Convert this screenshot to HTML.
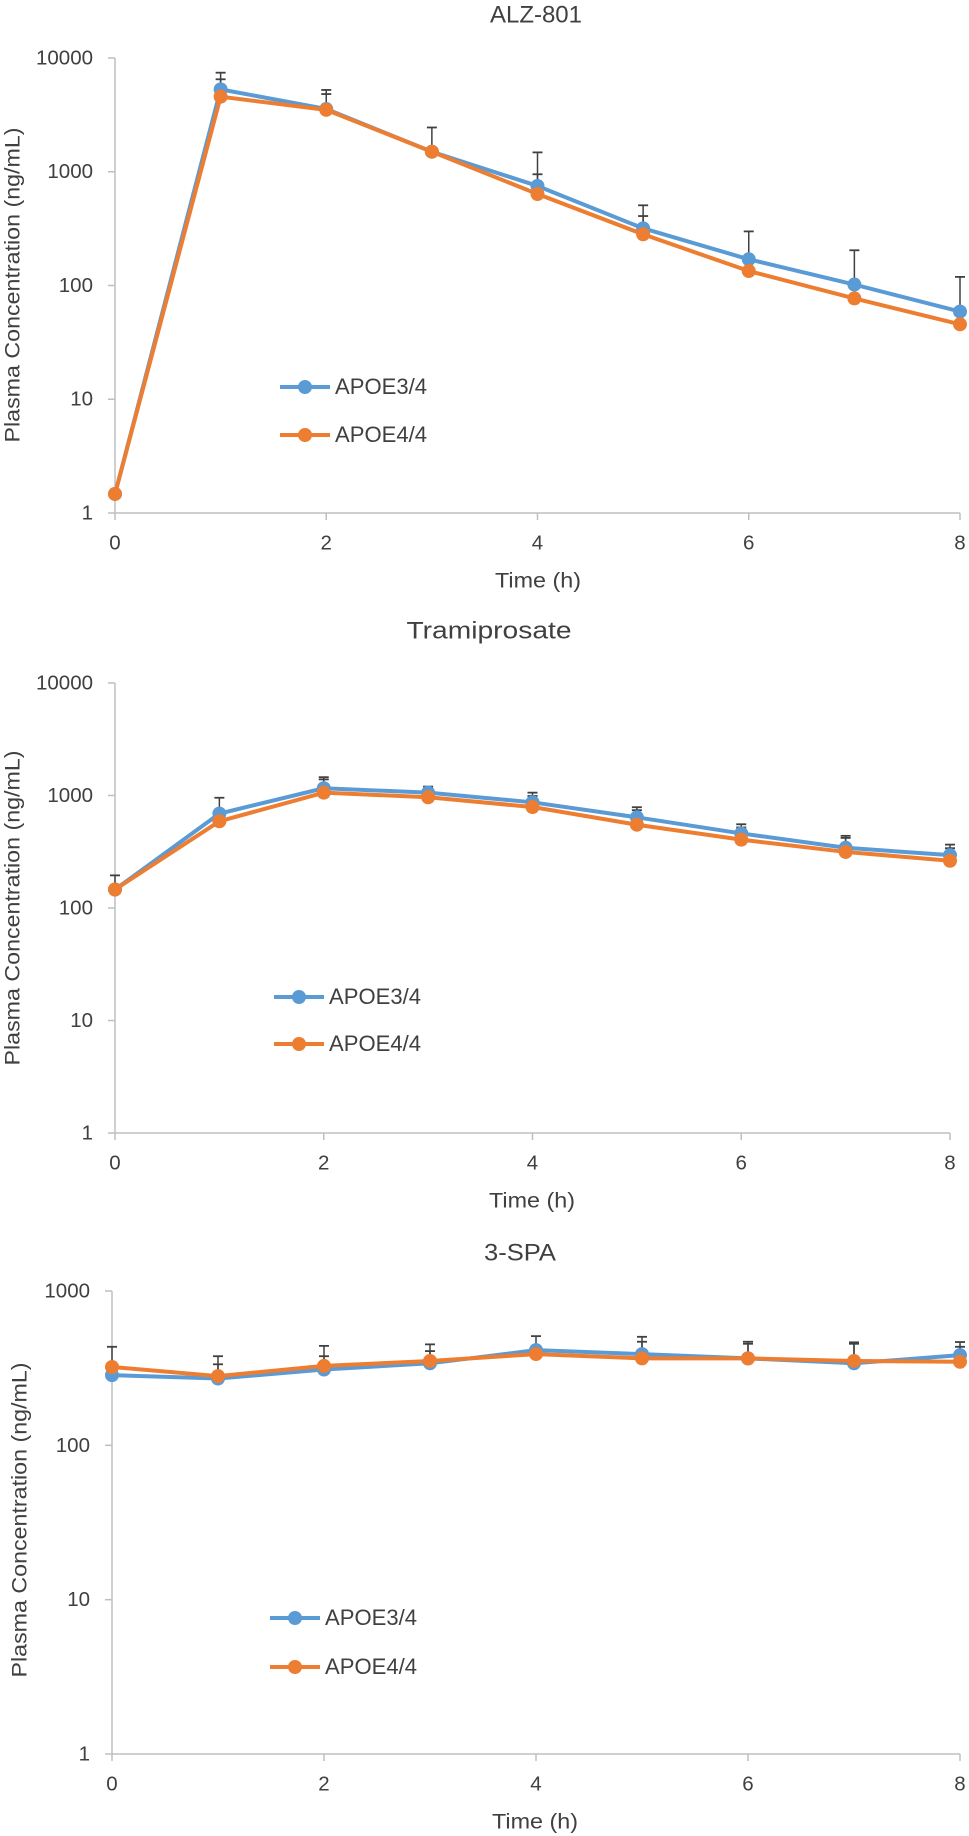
<!DOCTYPE html>
<html><head><meta charset="utf-8"><style>
html,body{margin:0;padding:0;background:#fff;}
svg{display:block;font-family:"Liberation Sans",sans-serif;}
</style></head><body>
<svg id="fig" width="969" height="1836" viewBox="0 0 969 1836" xmlns="http://www.w3.org/2000/svg"></svg>
<script>
const hours = [0,1,2,3,4,5,6,7,8];
const xTickLabels = ["0","2","4","6","8"];
const seriesNames = ["APOE3/4","APOE4/4"];
// ALZ-801
const alzE34 = [1.47,5300,3560,1500,750,318,170,102,59];
const alzE44 = [1.47,4570,3500,1500,637,282,134,77,45.6];
const alzErrE34 = [null,7430,5240,2450,1480,507,299,204,119];
const alzErrE44 = [null,6500,4820,null,950,408,null,null,null];
const alzYTicks = [1,10,100,1000,10000];
// Tramiprosate
const tramE34 = [146,690,1160,1060,870,640,460,343,295];
const tramE44 = [146,590,1060,965,790,550,405,315,263];
const tramErrE34 = [195,955,1455,1200,1060,787,555,438,366];
const tramErrE44 = [null,null,1390,1130,990,740,520,420,340];
const tramYTicks = [1,10,100,1000,10000];
// 3-SPA
const spaE34 = [285,271,310,340,414,390,366,340,384];
const spaE44 = [322,281,327,352,390,366,366,352,348];
const spaErrE34 = [435,378,441,451,510,505,469,465,467];
const spaErrE44 = [null,335,378,408,null,469,455,455,435];
const spaYTicks = [1,10,100,1000];

const NS="http://www.w3.org/2000/svg";
const svg=document.getElementById('fig');
function mk(tag,attrs,parent){const e=document.createElementNS(NS,tag);for(const k in attrs)e.setAttribute(k,attrs[k]);(parent||svg).appendChild(e);return e;}

function drawChart(c){
  const g=mk('g',{});
  
  
  const maxLog=Math.log10(c.yTicks[c.yTicks.length-1]);
  const xs=t=>c.x0+(c.x8-c.x0)*t/8;
  const ys=v=>c.yBottom-(c.yBottom-c.yTop)*Math.log10(v)/maxLog;
  // title
  const ti=mk('text',{x:c.titleX,y:c.titleY,'text-anchor':'middle','dominant-baseline':'middle','font-size':24,fill:'#404040',textLength:c.titleLen,lengthAdjust:'spacingAndGlyphs'},g);
  ti.textContent=c.title;
  
  
  // y axis
  const ya=mk('line',{x1:c.x0,y1:c.yTop,x2:c.x0,y2:c.yBottom,stroke:'#bfbfbf','stroke-width':1.5},g);
  
  
  c.yTicks.forEach(v=>{
    const y=ys(v);
    mk('line',{x1:c.x0-7,y1:y,x2:c.x0,y2:y,stroke:'#bfbfbf','stroke-width':1.5},g);
    const t=mk('text',{x:c.x0-22,y:y+1,'text-anchor':'end','dominant-baseline':'middle','font-size':20.5,fill:'#404040'},g);
    t.textContent=String(v);
    
    
  });
  // x axis
  const xa=mk('line',{x1:c.x0,y1:c.yBottom,x2:c.x8,y2:c.yBottom,stroke:'#bfbfbf','stroke-width':1.5},g);
  
  
  xTickLabels.forEach(l=>{
    const x=xs(+l);
    mk('line',{x1:x,y1:c.yBottom,x2:x,y2:c.yBottom+7,stroke:'#bfbfbf','stroke-width':1.5},g);
    const t=mk('text',{x:x,y:c.yBottom+31,'text-anchor':'middle','dominant-baseline':'middle','font-size':20.5,fill:'#404040'},g);
    t.textContent=l;
    
    
  });
  const xt=mk('text',{x:c.xTitleX,y:c.yBottom+69,'text-anchor':'middle','dominant-baseline':'middle','font-size':21,fill:'#404040',textLength:86,lengthAdjust:'spacingAndGlyphs'},g);
  xt.textContent='Time (h)';
  
  
  const ym=c.yTitleY;
  const yt=mk('text',{x:c.yTitleX,y:ym,'text-anchor':'middle','dominant-baseline':'middle','font-size':21,fill:'#404040',transform:`rotate(-90 ${c.yTitleX} ${ym})`,textLength:315,lengthAdjust:'spacingAndGlyphs'},g);
  yt.textContent='Plasma Concentration (ng/mL)';
  
  
  // error bars
  const drawErr=(vals,errs)=>{
    errs.forEach((e,i)=>{
      if(e==null)return;
      const x=xs(hours[i]);
      mk('line',{x1:x,y1:ys(vals[i]),x2:x,y2:ys(e),stroke:'#404040','stroke-width':1.5},g);
      const cap=mk('line',{x1:x-5,y1:ys(e),x2:x+5,y2:ys(e),stroke:'#404040','stroke-width':1.8},g);
      
      
    });
  };
  drawErr(c.s1,c.e1); drawErr(c.s2,c.e2);
  const colors=['#5b9bd5','#ed7d31'];
  [c.s1,c.s2].forEach((s,si)=>{
    const pts=s.map((v,i)=>xs(hours[i])+','+ys(v)).join(' ');
    const pl=mk('polyline',{points:pts,fill:'none',stroke:colors[si],'stroke-width':4,'stroke-linejoin':'round'},g);
    
    
    s.forEach((v,i)=>{
      const p=mk('circle',{cx:xs(hours[i]),cy:ys(v),r:7,fill:colors[si]},g);
      
      
    });
  });
  // legend
  seriesNames.forEach((n,i)=>{
    const y=c.legY[i];
    const lg=mk('g',{},g);
    
    
    mk('line',{x1:c.legX,y1:y,x2:c.legX+50,y2:y,stroke:colors[i],'stroke-width':4},lg);
    mk('circle',{cx:c.legX+25,cy:y,r:7,fill:colors[i]},lg);
    const t=mk('text',{x:c.legX+55,y:y+1,'dominant-baseline':'middle','font-size':22,fill:'#404040',textLength:92,lengthAdjust:'spacingAndGlyphs'},lg);
    t.textContent=n;
  });
}
drawChart({name:'alz-801',title:'ALZ-801',titleX:536,titleLen:92,titleY:16,x0:115,x8:960,yTop:58,yBottom:513,yTicks:alzYTicks,s1:alzE34,s2:alzE44,e1:alzErrE34,e2:alzErrE44,legX:280,legY:[387,435],yTitleX:14,yTitleY:285,xTitleX:538});
drawChart({name:'tramiprosate',title:'Tramiprosate',titleX:489,titleLen:165,titleY:632,x0:115,x8:950,yTop:683,yBottom:1133,yTicks:tramYTicks,s1:tramE34,s2:tramE44,e1:tramErrE34,e2:tramErrE44,legX:274,legY:[997,1044],yTitleX:14,yTitleY:908,xTitleX:532});
drawChart({name:'3-spa',title:'3-SPA',titleX:520,titleLen:72,titleY:1254,x0:112,x8:960,yTop:1291,yBottom:1754,yTicks:spaYTicks,s1:spaE34,s2:spaE44,e1:spaErrE34,e2:spaErrE44,legX:270,legY:[1618,1667],yTitleX:21,yTitleY:1520,xTitleX:535});
</script>
</body></html>
